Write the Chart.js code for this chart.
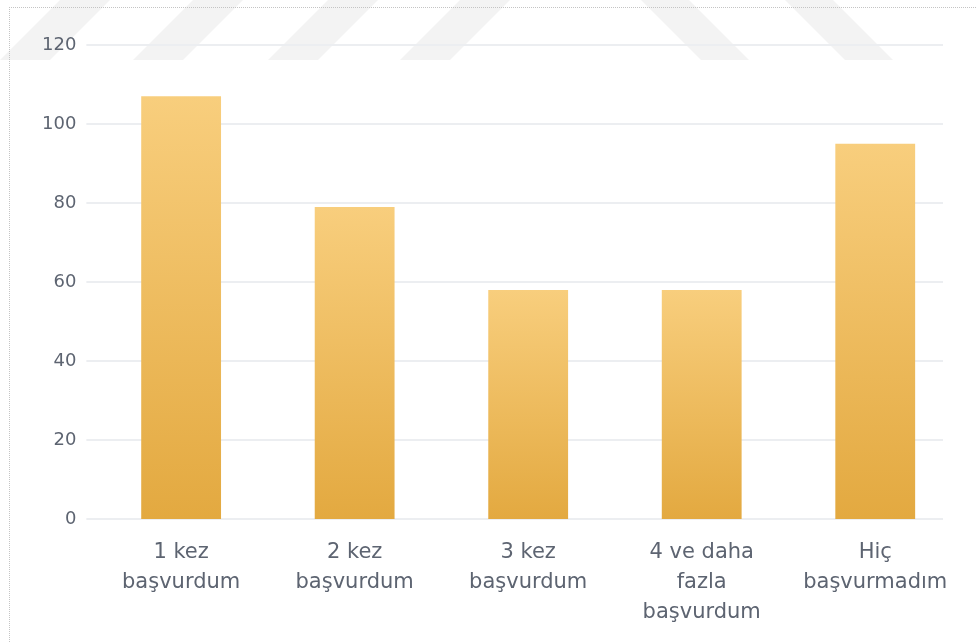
<!DOCTYPE html>
<html>
<head>
<meta charset="utf-8">
<script src="https://cdn.jsdelivr.net/npm/chart.js@4"></script>
<style>
  html, body { margin: 0; padding: 0; background: #fff; }
  .wrap { position: relative; width: 976px; height: 642px; }
  .frame {
    position: absolute; left: 9px; top: 7px; right: 0; bottom: 0;
    border-top: 1px dotted #c4c4c4; border-left: 1px dotted #c4c4c4;
    pointer-events: none;
  }
  canvas { position: absolute; left: 0; top: 0; }
</style>
</head>
<body>
<div class="wrap">
  <canvas id="bars" width="976" height="642"></canvas>
  <div class="frame"></div>
</div>
<script>
const categories = [
  ["1 kez", "başvurdum"],
  ["2 kez", "başvurdum"],
  ["3 kez", "başvurdum"],
  ["4 ve daha", "fazla", "başvurdum"],
  ["Hiç", "başvurmadım"]
];
const counts = [107, 79, 58, 58, 95];
const yTicks = [0, 20, 40, 60, 80, 100, 120];

// faint watermark stripes at the top of the image
const watermark = {
  id: 'watermark',
  beforeDraw(chart) {
    const ctx = chart.ctx;
    ctx.save();
    ctx.fillStyle = '#f3f3f3';
    // "/" stripes on the left
    [0, 133, 268, 400].forEach(x0 => {
      ctx.beginPath();
      ctx.moveTo(x0, 60);
      ctx.lineTo(x0 + 50, 60);
      ctx.lineTo(x0 + 110, 0);
      ctx.lineTo(x0 + 60, 0);
      ctx.closePath();
      ctx.fill();
    });
    // "\" stripes on the right
    [641, 785].forEach(x0 => {
      ctx.beginPath();
      ctx.moveTo(x0, 0);
      ctx.lineTo(x0 + 48, 0);
      ctx.lineTo(x0 + 108, 60);
      ctx.lineTo(x0 + 60, 60);
      ctx.closePath();
      ctx.fill();
    });
    ctx.restore();
  }
};

// horizontal grid lines, a bit shifted left like the original
const gridLines = {
  id: 'gridLines',
  beforeDatasetsDraw(chart) {
    const { ctx, chartArea, scales } = chart;
    ctx.save();
    ctx.strokeStyle = '#eceef1';
    ctx.lineWidth = 2;
    yTicks.forEach(v => {
      const py = Math.round(scales.y.getPixelForValue(v));
      ctx.beginPath();
      ctx.moveTo(chartArea.left - 8, py);
      ctx.lineTo(chartArea.right - 19, py);
      ctx.stroke();
    });
    ctx.restore();
  }
};

function barFill(c) {
  const chart = c.chart;
  if (!chart.chartArea || c.raw === undefined) return '#EDBB5C';
  const y = chart.scales.y;
  const top = y.getPixelForValue(c.raw);
  const bottom = y.getPixelForValue(0);
  const g = chart.ctx.createLinearGradient(0, top, 0, bottom);
  g.addColorStop(0, '#F8CE7D');
  g.addColorStop(1, '#E3A940');
  return g;
}

new Chart(document.getElementById('bars'), {
  type: 'bar',
  data: {
    labels: categories,
    datasets: [{
      data: counts,
      backgroundColor: barFill,
      borderWidth: 0,
      barPercentage: 0.46,
      categoryPercentage: 1
    }]
  },
  plugins: [watermark, gridLines],
  options: {
    responsive: false,
    animation: false,
    layout: { padding: { left: 24, right: 14, top: 45, bottom: -5 } },
    plugins: {
      legend: { display: false },
      tooltip: { enabled: false }
    },
    scales: {
      x: {
        grid: { display: false, drawTicks: false },
        border: { display: false },
        ticks: {
          color: '#5d6471',
          font: { family: 'DejaVu Sans', size: 21, lineHeight: '30px' },
          padding: 19,
          maxRotation: 0,
          autoSkip: false
        }
      },
      y: {
        min: 0,
        max: 120,
        afterBuildTicks(scale) {
          scale.ticks = yTicks.map(v => ({ value: v }));
        },
        grid: { display: false, drawTicks: false },
        border: { display: false },
        ticks: {
          color: '#5d6471',
          font: { family: 'DejaVu Sans', size: 18 },
          padding: 18
        }
      }
    }
  }
});
</script>
</body>
</html>
